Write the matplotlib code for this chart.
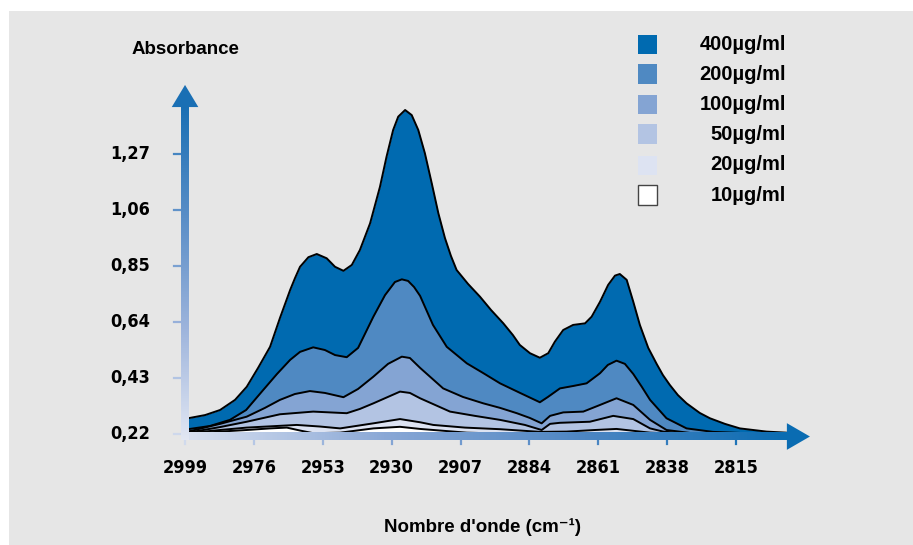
import numpy as np
import matplotlib.pyplot as plt
from matplotlib.patches import Polygon, Rectangle
from matplotlib.colors import LinearSegmentedColormap

# courbes (nombre d'onde en cm-1, absorbance)
w400 = [2998.0, 2992.3, 2987.3, 2982.3, 2978.4, 2974.6, 2970.6, 2967.3, 2963.9, 2962.3,
        2960.6, 2957.8, 2955.0, 2951.7, 2948.9, 2946.1, 2943.3, 2940.6, 2937.2, 2933.9,
        2931.7, 2929.5, 2927.8, 2925.5, 2923.3, 2921.1, 2918.9, 2916.6, 2914.4, 2912.2,
        2910.2, 2908.3, 2904.5, 2900.5, 2896.8, 2892.7, 2889.5, 2887.2, 2883.8, 2880.5,
        2877.7, 2875.5, 2872.7, 2869.4, 2865.4, 2863.2, 2860.4, 2857.7, 2855.4, 2853.8,
        2851.5, 2849.3, 2847.1, 2844.3, 2841.5, 2839.4, 2837.1, 2834.4, 2831.5, 2827.1,
        2823.7, 2818.7, 2813.7, 2804.8, 2798.1]
a400 = [0.279, 0.291, 0.310, 0.348, 0.397, 0.468, 0.547, 0.655, 0.760, 0.804,
        0.847, 0.883, 0.895, 0.879, 0.847, 0.832, 0.854, 0.910, 1.010, 1.147,
        1.260, 1.360, 1.410, 1.435, 1.416, 1.360, 1.273, 1.160, 1.048, 0.955,
        0.888, 0.835, 0.783, 0.735, 0.685, 0.635, 0.591, 0.554, 0.523, 0.506,
        0.523, 0.566, 0.610, 0.629, 0.635, 0.660, 0.716, 0.779, 0.814, 0.820,
        0.798, 0.716, 0.629, 0.543, 0.483, 0.441, 0.404, 0.366, 0.335, 0.299,
        0.279, 0.258, 0.241, 0.229, 0.225]

w200 = [2998.0, 2990.7, 2984.0, 2978.6, 2972.9, 2968.3, 2963.9, 2960.6, 2956.2, 2952.3,
        2948.9, 2945.0, 2941.2, 2936.1, 2932.2, 2928.9, 2926.6, 2924.5, 2922.5, 2920.5,
        2916.2, 2911.6, 2904.9, 2899.5, 2893.8, 2887.1, 2880.5, 2877.8, 2873.8, 2869.4,
        2864.9, 2860.4, 2857.8, 2854.9, 2852.1, 2849.3, 2846.4, 2843.7, 2838.2, 2831.5,
        2822.7, 2813.7]
a200 = [0.238, 0.250, 0.273, 0.310, 0.385, 0.445, 0.498, 0.528, 0.545, 0.535,
        0.516, 0.508, 0.543, 0.660, 0.741, 0.790, 0.800, 0.794, 0.771, 0.738,
        0.629, 0.547, 0.485, 0.449, 0.410, 0.374, 0.339, 0.359, 0.391, 0.400,
        0.410, 0.448, 0.479, 0.495, 0.483, 0.445, 0.396, 0.348, 0.279, 0.241,
        0.228, 0.224]

w100 = [2998.0, 2987.3, 2978.4, 2972.3, 2967.3, 2962.3, 2957.3, 2952.3, 2946.1, 2941.2,
        2936.1, 2931.2, 2926.6, 2923.9, 2920.5, 2912.8, 2906.2, 2899.4, 2893.8, 2888.2,
        2883.8, 2879.9, 2877.1, 2872.7, 2866.0, 2860.4, 2854.9, 2849.3, 2843.7, 2838.2, 2830.4]
a100 = [0.229, 0.258, 0.285, 0.318, 0.348, 0.370, 0.381, 0.374, 0.358, 0.389,
        0.435, 0.483, 0.510, 0.505, 0.468, 0.391, 0.359, 0.335, 0.318, 0.298,
        0.280, 0.260, 0.288, 0.301, 0.304, 0.329, 0.354, 0.329, 0.273, 0.235, 0.224]

w50 = [2998.0, 2987.3, 2978.4, 2967.3, 2956.2, 2945.0, 2940.6, 2936.1, 2927.2, 2923.9,
       2920.5, 2910.5, 2902.2, 2893.8, 2885.5, 2879.9, 2877.1, 2873.8, 2863.8, 2856.0,
       2849.3, 2843.7, 2839.3, 2833.7]
a50 = [0.225, 0.246, 0.266, 0.294, 0.304, 0.298, 0.314, 0.335, 0.379, 0.374,
       0.354, 0.304, 0.288, 0.273, 0.254, 0.235, 0.258, 0.262, 0.266, 0.288,
       0.276, 0.241, 0.229, 0.224]

w20 = [2998.0, 2987.3, 2978.4, 2961.7, 2953.9, 2947.2, 2936.1, 2927.2, 2920.5, 2916.1,
       2905.5, 2893.8, 2880.5, 2871.6, 2862.1, 2854.9, 2843.7, 2837.1]
a20 = [0.223, 0.235, 0.244, 0.254, 0.248, 0.241, 0.260, 0.276, 0.264, 0.254,
       0.244, 0.238, 0.228, 0.229, 0.235, 0.239, 0.225, 0.222]

w10 = [2998.0, 2987.3, 2978.4, 2970.6, 2965.0, 2960.6, 2956.2, 2947.2, 2936.1, 2927.2,
       2920.5, 2904.9, 2880.5, 2860.4]
a10 = [0.220, 0.229, 0.235, 0.241, 0.244, 0.233, 0.223, 0.225, 0.241, 0.247,
       0.239, 0.225, 0.218, 0.220]

series = [(w400, a400), (w200, a200), (w100, a100), (w50, a50), (w20, a20), (w10, a10)]
etiquettes = ["400µg/ml", "200µg/ml", "100µg/ml", "50µg/ml", "20µg/ml", "10µg/ml"]
couleurs = ["#006ab0", "#4f89c2", "#84a4d3", "#b3c4e3", "#dde3f2", "#ffffff"]

xticks = [2999, 2976, 2953, 2930, 2907, 2884, 2861, 2838, 2815]
yticks = [0.22, 0.43, 0.64, 0.85, 1.06, 1.27]
ytick_labels = ["0,22", "0,43", "0,64", "0,85", "1,06", "1,27"]

W, H = 913, 545
fig = plt.figure(figsize=(W / 100, H / 100), dpi=100)
fig.patch.set_facecolor("white")
fig.add_artist(Rectangle((9 / W, 0), 1, 1 - 11 / H, transform=fig.transFigure,
                         facecolor="#e6e6e6", edgecolor="none", zorder=0))

# 1 px = 1/2.995 cm-1 en x, 0.00375 en y ; 2999 -> px 185, 0.22 -> px 434
ax = fig.add_axes([150 / W, 75 / H, 680 / W, 410 / H])
ax.set_xlim(3010.7, 2783.6)
ax.set_ylim(0.085, 1.6225)
ax.axis("off")
ax.patch.set_visible(False)

base = 0.212
for i, ((w, a), c) in enumerate(zip(series, couleurs)):
    ax.fill_between(w, a, base, color=c, lw=0, zorder=2 + i)
    ax.plot(w, a, color="black", lw=1.4, zorder=2 + i, solid_joinstyle="round",
            solid_capstyle="round")

# axes en dégradé
cmap_h = LinearSegmentedColormap.from_list("h", ["#dbe2f1", "#8aa8d6", "#4d86c3", "#0a6cb2"])
cmap_v = LinearSegmentedColormap.from_list("v", ["#e2e7f3", "#9db4dc", "#5a8ec7", "#1a6fb4"])
grad = np.linspace(0, 1, 256)
ax.imshow(grad[np.newaxis, :], cmap=cmap_h, aspect="auto", zorder=10,
          extent=(3000.0, 2798.0, 0.1975, 0.2238), interpolation="bilinear")
ax.imshow(grad[:, np.newaxis], cmap=cmap_v, aspect="auto", zorder=10, origin="lower",
          extent=(3000.2, 2997.8, 0.1975, 1.446), interpolation="bilinear")
ax.add_patch(Polygon([(2798.0, 0.2106 - 0.05), (2790.3, 0.2106), (2798.0, 0.2106 + 0.05)],
                     closed=True, facecolor="#0a6cb2", edgecolor="none", zorder=11))
ax.add_patch(Polygon([(2999 + 4.44, 1.446), (2999, 1.529), (2999 - 4.44, 1.446)],
                     closed=True, facecolor="#1a6fb4", edgecolor="none", zorder=11))

police_etroite = dict(fontsize=13, fontweight="bold", family="DejaVu Sans",
                      fontstretch="condensed")

# graduations
for k, t in enumerate(xticks):
    ax.plot([t, t], [0.196, 0.181], color=cmap_h(k / 9 * 0.95 + 0.05), lw=1.6, zorder=9)
    ax.text(t, 0.094, str(t), ha="center", va="center", **police_etroite)
for k, (t, lab) in enumerate(zip(yticks, ytick_labels)):
    ax.plot([3000.5, 3002.8], [t, t], color=cmap_v(0.1 + k / 6 * 0.8), lw=1.6, zorder=9)
    ax.text(3010.7, t, lab, ha="right", va="center", **police_etroite)

fig.text(132 / W, 1 - 50 / H, "Absorbance", ha="left", va="center", fontsize=13.5,
         fontweight="bold", family=["Liberation Sans", "DejaVu Sans"])
fig.text(482 / W, 1 - 527 / H, "Nombre d'onde (cm⁻¹)", ha="center", va="center",
         fontsize=13.5, fontweight="bold", family=["Liberation Sans", "DejaVu Sans"])

# légende
for k, (lab, c) in enumerate(zip(etiquettes, couleurs)):
    yc = [44, 74, 104, 134, 165, 195][k]
    ec = "#444444" if c == "#ffffff" else "none"
    fig.add_artist(Rectangle((638 / W, 1 - (yc + 9.5) / H), 19 / W, 19 / H,
                             transform=fig.transFigure, facecolor=c, edgecolor=ec, lw=1))
    fig.text(786 / W, 1 - yc / H, lab, ha="right", va="center", fontsize=14.5,
             fontweight="bold", family=["Liberation Sans", "DejaVu Sans"])

plt.savefig("out.png", dpi=100)
